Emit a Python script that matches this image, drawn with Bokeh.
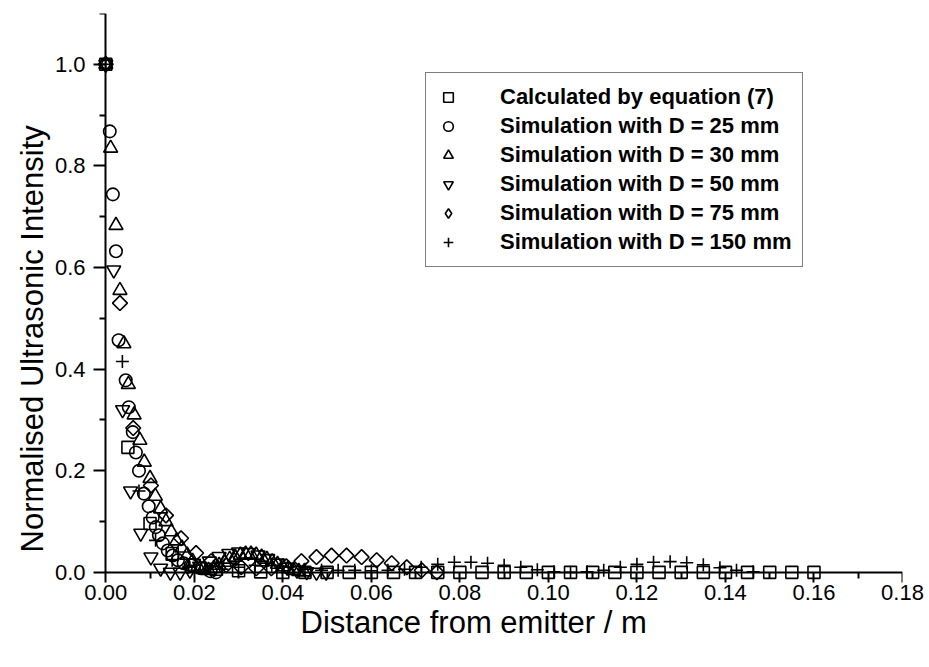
import numpy as np
from bokeh.plotting import figure
from bokeh.models import Range1d, LinearAxis, FixedTicker, Legend, LegendItem, Title
from bokeh.embed import file_html
from bokeh.resources import INLINE

# ---------------- data ----------------
# Calculated by equation (7)
eq_x = [0.0, 0.005, 0.01, 0.015, 0.02, 0.025, 0.03, 0.035, 0.04, 0.045, 0.05,
        0.055, 0.06, 0.065, 0.07, 0.075, 0.08, 0.085, 0.09, 0.095, 0.10, 0.105,
        0.11, 0.115, 0.12, 0.125, 0.13, 0.135, 0.14, 0.145, 0.15, 0.155, 0.16]
eq_y = [1.0, 0.246, 0.096, 0.037, 0.014, 0.006, 0.003, 0.001, 0.0, 0.0, 0.0,
        0.0, 0.0, 0.0, 0.0, 0.0, 0.0, 0.0, 0.0, 0.0, 0.0, 0.0,
        0.0, 0.0, 0.0, 0.0, 0.0, 0.0, 0.0, 0.0, 0.0, 0.0, 0.0]

# Simulation with D = 25 mm
d25_x = [0.0, 0.0009, 0.0016, 0.0023, 0.0029, 0.0045, 0.0052, 0.0061, 0.0068,
         0.0075, 0.0086, 0.0097, 0.0106, 0.0113, 0.012, 0.0129, 0.014, 0.0151,
         0.0163, 0.0176, 0.0192, 0.0215, 0.0237, 0.0249]
d25_y = [1.0, 0.868, 0.744, 0.632, 0.457, 0.378, 0.325, 0.276, 0.236,
         0.200, 0.155, 0.130, 0.108, 0.089, 0.073, 0.057, 0.043, 0.033,
         0.024, 0.018, 0.014, 0.008, 0.002, 0.0]

# Simulation with D = 30 mm
d30_x = [0.0, 0.0011, 0.0023, 0.0032, 0.0041, 0.0051, 0.0064, 0.0077, 0.0087,
         0.0100, 0.0112, 0.0124, 0.0136, 0.0148, 0.0160, 0.0172, 0.0184, 0.0196,
         0.0208, 0.0220, 0.0232, 0.0244, 0.0256, 0.0268, 0.0280, 0.0292, 0.0304,
         0.0316, 0.0328, 0.0340, 0.0352, 0.0364, 0.0376, 0.0388, 0.0400, 0.0412,
         0.0424, 0.0436, 0.0448]
d30_y = [1.0, 0.835, 0.683, 0.555, 0.450, 0.370, 0.310, 0.260, 0.217,
         0.185, 0.150, 0.125, 0.100, 0.080, 0.062, 0.048, 0.034, 0.022,
         0.012, 0.006, 0.004, 0.008, 0.014, 0.020, 0.026, 0.030, 0.034,
         0.036, 0.036, 0.034, 0.030, 0.026, 0.021, 0.016, 0.011, 0.007,
         0.004, 0.002, 0.001]

# Simulation with D = 50 mm
d50_x = [0.0, 0.0018, 0.0038, 0.0056, 0.0079, 0.0102, 0.0124, 0.0146, 0.0168,
         0.0190, 0.0212, 0.0234, 0.0256, 0.0278, 0.0300, 0.0322, 0.0344, 0.0366,
         0.0388, 0.0410, 0.0432, 0.0454, 0.0476, 0.0498]
d50_y = [1.0, 0.595, 0.320, 0.160, 0.077, 0.030, 0.008, 0.0, 0.0,
         0.004, 0.012, 0.022, 0.031, 0.037, 0.040, 0.039, 0.034, 0.027,
         0.018, 0.010, 0.004, 0.001, 0.0, 0.0]

# Simulation with D = 75 mm
d75_x = [0.0, 0.0032, 0.0062, 0.0102, 0.0136, 0.0170, 0.0204, 0.0238, 0.0272,
         0.0306, 0.0340, 0.0374, 0.0408, 0.0442, 0.0476, 0.0510, 0.0544, 0.0578,
         0.0612, 0.0646, 0.0680, 0.0714, 0.0748]
d75_y = [1.0, 0.530, 0.284, 0.171, 0.112, 0.067, 0.038, 0.022, 0.014,
         0.010, 0.008, 0.008, 0.012, 0.022, 0.030, 0.033, 0.033, 0.030,
         0.024, 0.018, 0.010, 0.004, 0.0]

# Simulation with D = 150 mm
d150_x = [0.0, 0.00375, 0.0075, 0.01125, 0.015, 0.01875, 0.0225, 0.02625,
          0.03, 0.03375, 0.0375, 0.04125, 0.045, 0.04875, 0.0525, 0.05625,
          0.06, 0.06375, 0.0675, 0.07125, 0.075, 0.07875, 0.0825, 0.08625,
          0.09, 0.09375, 0.0975, 0.10125, 0.105, 0.10875, 0.1125, 0.11625,
          0.12, 0.12375, 0.1275, 0.13125, 0.135, 0.13875, 0.1425, 0.14625]
d150_y = [1.0, 0.415, 0.160, 0.063, 0.024, 0.010, 0.005, 0.006,
          0.010, 0.014, 0.014, 0.010, 0.006, 0.004, 0.004, 0.004,
          0.003, 0.004, 0.006, 0.010, 0.016, 0.020, 0.020, 0.018,
          0.014, 0.010, 0.005, 0.001, 0.0, 0.001, 0.004, 0.010,
          0.016, 0.020, 0.021, 0.019, 0.015, 0.009, 0.004, 0.001]

series_labels = ["Calculated by equation (7)",
                 "Simulation with D = 25 mm",
                 "Simulation with D = 30 mm",
                 "Simulation with D = 50 mm",
                 "Simulation with D = 75 mm",
                 "Simulation with D = 150 mm"]

x_ticks = [0.0, 0.02, 0.04, 0.06, 0.08, 0.10, 0.12, 0.14, 0.16, 0.18]
x_tick_labels = ["0.00", "0.02", "0.04", "0.06", "0.08", "0.10", "0.12",
                 "0.14", "0.16", "0.18"]
x_minor = [0.01, 0.03, 0.05, 0.07, 0.09, 0.11, 0.13, 0.15, 0.17]
y_ticks = [0.0, 0.2, 0.4, 0.6, 0.8, 1.0]
y_tick_labels = ["0.0", "0.2", "0.4", "0.6", "0.8", "1.0"]
y_minor = [0.1, 0.3, 0.5, 0.7, 0.9, 1.1]

x_title = "Distance from emitter / m"
y_title = "Normalised Ultrasonic Intensity"

# ---------------- figure ----------------
FONT = "Liberation Sans"
p = figure(width=929, height=667, output_backend="svg", toolbar_location=None,
           x_range=Range1d(-0.003, 0.18), y_range=Range1d(-0.02, 1.1),
           x_axis_type=None, y_axis_type=None,
           min_border_left=92, min_border_right=27,
           min_border_top=13, min_border_bottom=85)
p.outline_line_color = None
p.background_fill_color = "white"
p.border_fill_color = "white"
p.extra_x_ranges = {"legend_only": Range1d(10, 11)}


def label_axis(ax):
    # axis that only carries the tick labels
    ax.axis_line_color = None
    ax.major_tick_line_color = None
    ax.minor_tick_line_color = None
    ax.major_tick_out = 0
    ax.major_tick_in = 0
    ax.minor_tick_out = 0
    ax.minor_tick_in = 0
    ax.major_label_text_font = FONT
    ax.major_label_text_font_size = "22px"
    ax.major_label_text_color = "black"


def line_axis(ax):
    # axis drawn through the data origin: line and ticks only
    ax.axis_line_width = 2
    ax.axis_line_color = "black"
    ax.major_tick_line_width = 2
    ax.minor_tick_line_width = 2
    ax.major_tick_line_color = "black"
    ax.minor_tick_line_color = "black"
    ax.major_tick_out = 0
    ax.major_tick_in = 12
    ax.minor_tick_out = 0
    ax.minor_tick_in = 6
    ax.major_label_text_alpha = 0
    ax.major_label_text_font_size = "1px"
    ax.major_label_standoff = 0


# tick labels (at the frame edges)
xlab = LinearAxis(ticker=FixedTicker(ticks=x_ticks, minor_ticks=[]),
                  major_label_overrides={t: l for t, l in zip(x_ticks, x_tick_labels)})
label_axis(xlab)
xlab.major_label_standoff = 2
p.add_layout(xlab, "below")

ylab = LinearAxis(ticker=FixedTicker(ticks=y_ticks, minor_ticks=[]),
                  major_label_overrides={t: l for t, l in zip(y_ticks, y_tick_labels)})
label_axis(ylab)
ylab.major_label_standoff = 7
p.add_layout(ylab, "left")

# lines and ticks through the origin (ticks pointing away from the data)
xline = LinearAxis(fixed_location=0, bounds=(0, 0.18),
                   ticker=FixedTicker(ticks=x_ticks, minor_ticks=x_minor))
line_axis(xline)
p.add_layout(xline, "above")

yline = LinearAxis(fixed_location=0, bounds=(0, 1.1),
                   ticker=FixedTicker(ticks=y_ticks, minor_ticks=y_minor))
line_axis(yline)
p.add_layout(yline, "right")

# axis titles
p.add_layout(Title(text=x_title, align="left", offset=208, standoff=0,
                   text_font=FONT, text_font_size="31px", text_font_style="normal",
                   text_color="black"), "below")
p.add_layout(Title(text=y_title, align="left", offset=30, standoff=4,
                   text_font=FONT, text_font_size="31px", text_font_style="normal",
                   text_color="black"), "left")

common = dict(line_color="black", line_width=1.6, fill_alpha=0)
r_eq = p.scatter(eq_x, eq_y, marker="square", size=12, **common)
r_25 = p.scatter(d25_x, d25_y, marker="circle", size=12.5, **common)
r_30 = p.scatter(d30_x, d30_y, marker="triangle", size=14, **common)
r_50 = p.scatter(d50_x, d50_y, marker="inverted_triangle", size=14, **common)
r_75 = p.scatter(d75_x, d75_y, marker="square", angle=np.pi / 4, size=10.5, **common)
r_150 = p.scatter(d150_x, d150_y, marker="cross", size=13, line_color="black", line_width=1.6)
# legend-only glyph for the diamond series (plotted off-screen)
r_75_key = p.scatter(d75_x, d75_y, marker="diamond", size=14, x_range_name="legend_only", **common)

renderers = [r_eq, r_25, r_30, r_50, r_75_key, r_150]
legend = Legend(items=[LegendItem(label=l, renderers=[r]) for l, r in zip(series_labels, renderers)],
                location=(333, 315),
                label_text_font=FONT, label_text_font_size="22px",
                label_text_font_style="bold", label_text_color="black",
                glyph_width=24, glyph_height=28, label_height=28,
                label_standoff=40, spacing=1, padding=10, margin=0,
                border_line_color="black", border_line_width=1.5,
                background_fill_color="white", background_fill_alpha=1)
p.add_layout(legend)

open("out.html", "w").write(file_html(p, INLINE))
